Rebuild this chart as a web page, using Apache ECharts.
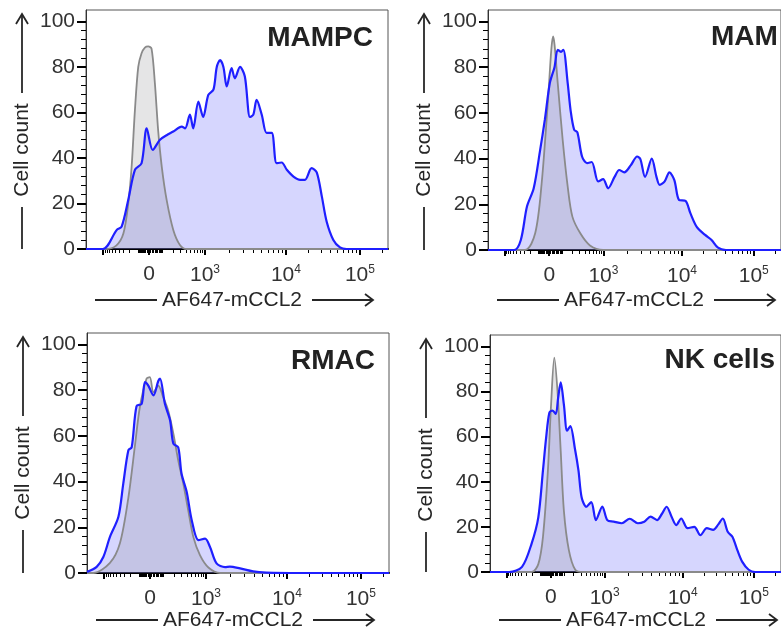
<!DOCTYPE html>
<html>
<head>
<meta charset="utf-8">
<script src="https://cdn.jsdelivr.net/npm/echarts@6/dist/echarts.min.js"></script>
<style>
html,body{margin:0;padding:0;background:#fff;}
#chart{width:781px;height:631px;}
</style>
</head>
<body>
<div id="chart"></div>
<script>
// ---- data (x in display channel units 0..1000 across the plot, y = cell count, % of max) ----
const PANEL_TITLES = ['MAMPC', 'MAM', 'RMAC', 'NK cells'];
const X_NAME = 'AF647-mCCL2';
const Y_NAME = 'Cell count';
const Y_TICKS = [0, 20, 40, 60, 80, 100];
const X_LABEL_CH = [209, 394, 662, 907];
const X_LABELS = ['0', '10{s|3}', '10{s|4}', '10{s|5}'];
const X_MAJOR_CH = [57, 209, 394, 662, 907];

const MAMPC_STAINED = [[0,0],[56,0],[102,8.4],[118,9.8],[140,21.6],[162,34.8],[184,37.7],[201,53],[221,43.5],[245,48],[267,50],[289,51.6],[317,53.8],[328,53],[344,59],[355,53],[372,64.8],[388,58],[405,67.7],[422,70],[433,80],[444,83],[455,80],[466,71.4],[482,79.5],[493,75],[510,80],[526,75.8],[543,58],[554,59],[565,65.5],[582,59],[598,51],[615,51],[631,37.7],[648,38],[665,34.8],[687,31.8],[709,30.4],[725,30.4],[747,35.5],[764,33.7],[781,23],[797,12],[819,4],[841,0.7],[863,0],[1000,0]];
const MAMPC_CONTROL = [[0,0],[63,0],[100,1.5],[124,6.9],[140,20],[151,36],[162,61],[173,80],[184,86],[195,88.5],[206,89],[217,88],[228,73],[239,52],[251,36],[267,21.6],[289,8.4],[311,1.8],[333,0],[1000,0]];

const MAM_STAINED = [[0,0],[89,0],[112,4.4],[133,19],[156,27],[178,43.8],[194,57],[211,73],[227,80],[238,87.6],[249,86.7],[257,87.6],[272,73],[282,61],[294,52.6],[305,51.5],[321,40.9],[338,38],[354,38.5],[376,30],[393,31],[410,27],[432,32],[448,35],[465,34],[487,37],[509,40.9],[520,39.8],[536,32],[559,40],[575,32],[586,28.5],[603,30],[619,34],[636,30.6],[652,21.9],[674,21.5],[691,16],[713,10],[741,6.6],[763,4.4],[785,1],[812,0],[1000,0]];
const MAM_CONTROL = [[0,0],[126,0],[161,7.3],[183,29],[205,66],[216,87.6],[222,93.4],[227,90],[238,73],[255,48],[272,27.7],[288,14.6],[315,7.3],[348,2],[393,0],[1000,0]];

const RMAC_STAINED = [[0,0.5],[32,2.7],[54,7],[76,15.8],[104,24.6],[120,39],[137,53.7],[148,55],[164,73],[181,74],[192,83.5],[203,82],[220,77.7],[236,84],[242,85],[258,74],[275,66.8],[286,56.6],[302,55],[313,43.5],[330,35.5],[347,23],[369,14.4],[391,15],[407,11.5],[429,4.2],[457,2.6],[473,2.8],[507,2],[550,0.7],[594,0.2],[704,0],[1000,0]];
const RMAC_CONTROL = [[0,0],[21,0],[76,4.4],[109,13],[137,33],[159,56],[175,72.6],[197,85],[208,85.7],[220,79],[236,82],[252,77],[269,71],[286,61],[302,49.3],[319,39],[335,27.5],[352,15.8],[374,7.8],[402,2.4],[441,0],[1000,0]];

const NK_STAINED = [[0,0],[66,0],[110,2.3],[143,12.6],[166,24.2],[182,45],[193,59.6],[204,70.6],[215,71.5],[226,70],[234,77],[243,84],[254,74],[265,62.6],[276,64.6],[292,54.5],[304,45],[315,33],[331,28.9],[348,31],[364,23],[386,29],[403,23],[425,22.3],[453,21.6],[480,23.6],[508,21.6],[530,22.3],[552,24.5],[574,23],[591,25.8],[607,28.9],[624,24.5],[640,20.8],[657,23.7],[679,19.4],[702,20],[723,16.3],[745,19.4],[767,18.7],[784,21],[800,23.7],[817,17.8],[833,15.6],[850,9.7],[867,4.5],[889,1],[911,0],[1000,0]];
const NK_CONTROL = [[0,0],[143,0],[166,3.5],[182,15.6],[199,45],[210,74.4],[221,95],[232,80],[243,53.6],[254,27],[271,9.7],[293,1],[320,0],[1000,0]];

const STAINED = [MAMPC_STAINED, MAM_STAINED, RMAC_STAINED, NK_STAINED];
const CONTROL = [MAMPC_CONTROL, MAM_CONTROL, RMAC_CONTROL, NK_CONTROL];

// ---- layout ----
const GRIDS = [
  {left: 86, top: 10, width: 302, height: 239},
  {left: 488, top: 10, width: 302, height: 240},
  {left: 87, top: 333, width: 302, height: 240},
  {left: 490, top: 335, width: 302, height: 237}
];
const FONT = '"Liberation Sans", Arial, Helvetica, sans-serif';
const INK = '#262626';
const FS = 21;

// biexponential-like tick placement for minor ticks (decoration only)
function biex(v) {
  const W = 150, A = Math.asinh(1000 / W);
  if (v >= 1e4) return 662 + (Math.log10(v) - 4) * 245;
  if (v >= 1e3) return 394 + (Math.log10(v) - 3) * 268;
  if (v >= 0) return 209 + 185 * Math.asinh(v / W) / A;
  return 209 - 152 * Math.asinh(-v / W) / A;
}
const minorRaw = [];
for (let k = 1; k <= 9; k++) { minorRaw.push(-k * 100, -k * 10, k * 10, k * 100); }
for (let k = 2; k <= 9; k++) { minorRaw.push(k * 1000, k * 10000); }
minorRaw.push(200000);
const X_MINOR_CH = minorRaw.map(biex).filter(c => c > 0 && c < 1000);
const Y_MINOR = [];
for (let v = 4; v < 104; v += 4) if (v % 20) Y_MINOR.push(v);

const grid = [], xAxis = [], yAxis = [], series = [], graphic = [];
GRIDS.forEach((g, i) => {
  grid.push(Object.assign({show: true, borderColor: '#555', borderWidth: 1, backgroundColor: 'transparent'}, g));
  const baseX = {type: 'value', gridIndex: i, min: 0, max: 1000, position: 'bottom', offset: 0, splitLine: {show: false}};
  xAxis.push(Object.assign({}, baseX, {
    axisLine: {show: true, onZero: false, lineStyle: {color: '#000', width: 2}},
    axisTick: {show: true, length: 6, lineStyle: {color: '#000', width: 2}, customValues: X_MAJOR_CH},
    axisLabel: {
      show: true, customValues: X_LABEL_CH, margin: 15, color: '#333', fontSize: FS, fontFamily: FONT,
      formatter: v => X_LABELS[X_LABEL_CH.indexOf(v)] || '',
      rich: {s: {fontSize: 12, fontFamily: FONT, color: '#333', verticalAlign: 'top', padding: [0, 0, 10, 0]}}
    }
  }));
  xAxis.push(Object.assign({}, baseX, {
    axisLine: {show: false},
    axisTick: {show: true, length: 4, lineStyle: {color: '#000', width: 1}, customValues: X_MINOR_CH},
    axisLabel: {show: false}
  }));
  const baseY = {type: 'value', gridIndex: i, min: 0, max: 105, position: 'left', offset: 0, splitLine: {show: false}};
  yAxis.push(Object.assign({}, baseY, {
    axisLine: {show: true, onZero: false, lineStyle: {color: '#333', width: 1}},
    axisTick: {show: true, length: 9, lineStyle: {color: '#000', width: 2}, customValues: Y_TICKS},
    axisLabel: {show: true, customValues: Y_TICKS, margin: 11, color: '#333', fontSize: FS, fontFamily: FONT}
  }));
  yAxis.push(Object.assign({}, baseY, {
    axisLine: {show: false},
    axisTick: {show: true, length: 5, lineStyle: {color: '#000', width: 1}, customValues: Y_MINOR},
    axisLabel: {show: false}
  }));
  const xi = i * 2, yi = i * 2;
  series.push({type: 'line', xAxisIndex: xi, yAxisIndex: yi, data: STAINED[i], smooth: 0.3, symbol: 'none',
    lineStyle: {width: 0, opacity: 0}, areaStyle: {color: 'rgba(115,115,250,0.42)'}, silent: true, z: 2});
  series.push({type: 'line', xAxisIndex: xi, yAxisIndex: yi, data: CONTROL[i], smooth: 0.3, symbol: 'none',
    lineStyle: {width: 1.8, color: '#8a8a8a'}, areaStyle: {color: 'rgba(120,120,130,0.28)'}, silent: true, z: 3});
  series.push({type: 'line', xAxisIndex: xi, yAxisIndex: yi, data: STAINED[i], smooth: 0.3, symbol: 'none',
    lineStyle: {width: 2.2, color: '#1f1fff'}, silent: true, z: 4});

  // axis name decorations
  const L = g.left, T = g.top, B = g.top + g.height;
  const yx = L - 64;
  const yc = T + 140;
  const stroke = {stroke: INK, lineWidth: 1.8, fill: null};
  graphic.push({type: 'line', shape: {x1: yx, y1: B, x2: yx, y2: yc + 57}, style: stroke});
  graphic.push({type: 'line', shape: {x1: yx, y1: yc - 57, x2: yx, y2: T + 4}, style: stroke});
  graphic.push({type: 'polyline', shape: {points: [[yx - 6, T + 14], [yx, T + 4], [yx + 6, T + 14]]}, style: stroke});
  graphic.push({type: 'text', x: yx, y: yc, rotation: Math.PI / 2,
    style: {text: Y_NAME, fill: INK, font: FS + 'px ' + FONT, align: 'center', verticalAlign: 'middle'}});
  const xy = i < 2 ? 300 : 620;
  const xc = L + 146;
  graphic.push({type: 'line', shape: {x1: L + 9, y1: xy, x2: xc - 75, y2: xy}, style: stroke});
  graphic.push({type: 'line', shape: {x1: xc + 80, y1: xy, x2: L + 287, y2: xy}, style: stroke});
  graphic.push({type: 'polyline', shape: {points: [[L + 279, xy - 6], [L + 287, xy], [L + 279, xy + 6]]}, style: stroke});
  graphic.push({type: 'text', x: xc, y: xy,
    style: {text: X_NAME, fill: INK, font: FS + 'px ' + FONT, align: 'center', verticalAlign: 'middle'}});
});

// panel titles
const TITLE_POS = [
  {x: 373, y: 38, align: 'right'},
  {x: 711, y: 37, align: 'left'},
  {x: 375, y: 361, align: 'right'},
  {x: 775, y: 360, align: 'right'}
];
PANEL_TITLES.forEach((t, i) => {
  const p = TITLE_POS[i];
  graphic.push({type: 'text', x: p.x, y: p.y, z: 100,
    style: {text: t, fill: '#222', font: 'bold 28px ' + FONT, align: p.align, verticalAlign: 'middle'}});
});

const chart = echarts.init(document.getElementById('chart'), null, {renderer: 'canvas'});
chart.setOption({
  animation: false,
  backgroundColor: '#fff',
  grid, xAxis, yAxis, series, graphic
});
</script>
</body>
</html>
